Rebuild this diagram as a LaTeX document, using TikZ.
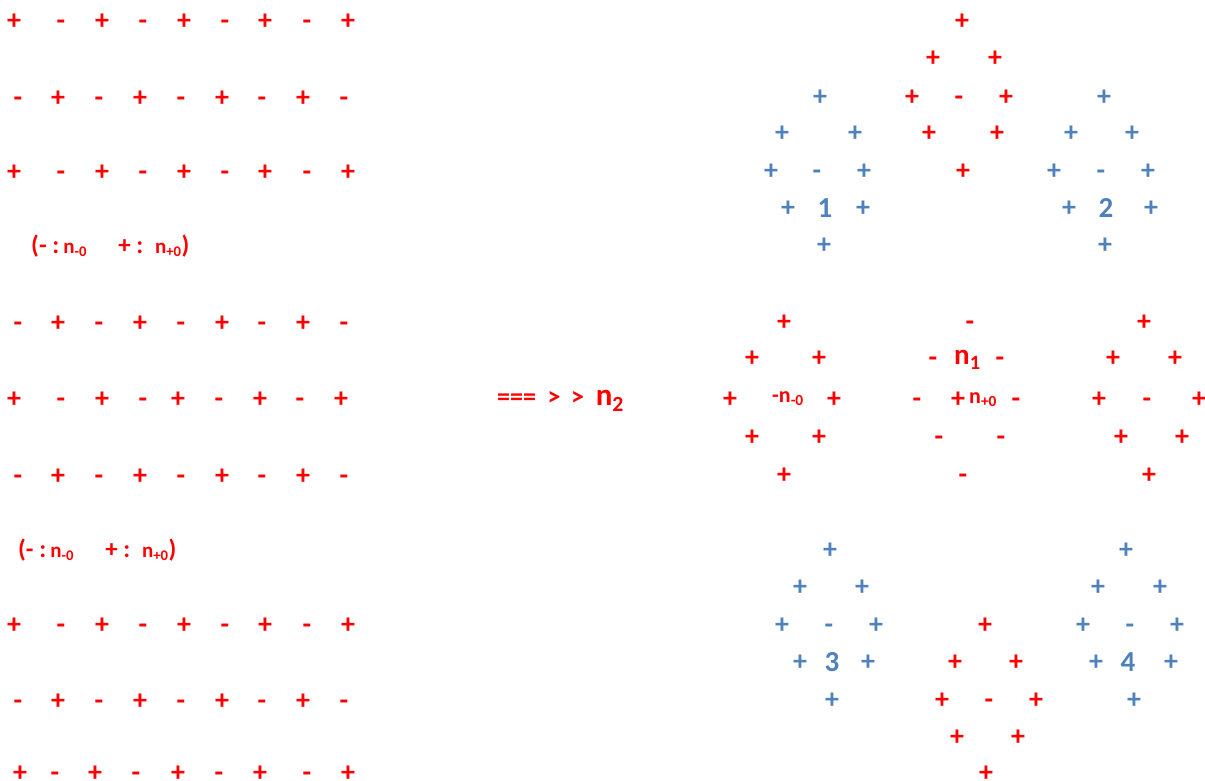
\documentclass[tikz,border=0pt]{standalone}
\usepackage{fontspec}
\setmainfont{Carlito}
\usetikzlibrary{positioning}
\definecolor{signred}{HTML}{FF0000}
\definecolor{signblue}{HTML}{4F81BD}

\tikzset{
  sgn/.style={font=\bfseries\fontsize{28}{28}\selectfont,inner sep=0pt,
              anchor=base,yshift=-9pt},
  redsgn/.style={sgn,text=signred},
  bluesgn/.style={sgn,text=signblue},
  legend/.style={font=\bfseries\fontsize{25}{25}\selectfont,text=signred,
                 inner sep=0pt,anchor=west},
  bignum/.style={font=\bfseries\fontsize{29}{29}\selectfont,text=signblue,
                 inner sep=0pt,anchor=base,yshift=-10pt},
  nlabel/.style={font=\bfseries\fontsize{22}{22}\selectfont,text=signred,
                 inner sep=0pt,anchor=west}
}
\newcommand{\legendtext}{(- :\,{\fontsize{21}{21}\selectfont n\textsubscript{-0}}\hspace{1.25em}+ :\,
  {\fontsize{21}{21}\selectfont n\textsubscript{+0}})}

\begin{document}
\begin{tikzpicture}[x=1pt,y=-1pt]
  \useasboundingbox (0,0) rectangle (1205,780);

  % left lattice, rows starting with +
  \foreach \y/\cols in {20/{14,61,102,143,184,225,265,307,348},
                        171/{14,61,102,143,184,225,265,307,348},
                        398/{14,61,102,143,178,219,260,300,341},
                        624/{14,61,102,143,184,225,265,307,348},
                        772/{20,55,95,136,178,219,260,307,348}}
    \foreach \x [count=\i] in \cols
      \node[redsgn] (p-\y-\i) at (\x,\y) {\ifodd\i +\else -\fi};
  % left lattice, rows starting with -
  \foreach \y in {97,322,475,700}
    \foreach \x [count=\i] in {18,58,99,140,181,222,262,303,344}
      \node[redsgn] (m-\y-\i) at (\x,\y) {\ifodd\i -\else +\fi};

  \node[legend] (leg1) at (31,246) {\legendtext};
  \node[legend] (leg2) at (18,550) {\legendtext};

  \node[legend,font=\bfseries\fontsize{26}{26}\selectfont] (arrow) at (497,401)
    {===\hspace{0.45em}>\hspace{0.4em}>\hspace{0.45em}{\fontsize{31}{31}\selectfont n\textsubscript{2}}};

  % top red diamond
  \node[redsgn] (t1) at (962,20) {+};
  \node[redsgn] (t2) at (933,57) {+};
  \node[redsgn] (t3) at (995,57) {+};
  \node[redsgn] (t4) at (912,96) {+};
  \node[redsgn] (t5) at (959,96) {-};
  \node[redsgn] (t6) at (1006,96) {+};
  \node[redsgn] (t7) at (929,132) {+};
  \node[redsgn] (t8) at (997,132) {+};
  \node[redsgn] (t9) at (963,170) {+};

  % blue diamond 1
  \node[bluesgn] (a1) at (820,96) {+};
  \node[bluesgn] (a2) at (782,132) {+};
  \node[bluesgn] (a3) at (855,132) {+};
  \node[bluesgn] (a4) at (771,170) {+};
  \node[bluesgn] (a5) at (817,170) {-};
  \node[bluesgn] (a6) at (864,170) {+};
  \node[bluesgn] (a7) at (788,207) {+};
  \node[bignum]  (a8) at (825,207) {1};
  \node[bluesgn] (a9) at (863,207) {+};
  \node[bluesgn] (a10) at (824,244) {+};

  % blue diamond 2
  \node[bluesgn] (b1) at (1104,96) {+};
  \node[bluesgn] (b2) at (1071,132) {+};
  \node[bluesgn] (b3) at (1132,132) {+};
  \node[bluesgn] (b4) at (1054,170) {+};
  \node[bluesgn] (b5) at (1101,170) {-};
  \node[bluesgn] (b6) at (1148,170) {+};
  \node[bluesgn] (b7) at (1069,207) {+};
  \node[bignum]  (b8) at (1106,207) {2};
  \node[bluesgn] (b9) at (1151,207) {+};
  \node[bluesgn] (b10) at (1105,244) {+};

  % middle left red diamond
  \node[redsgn] (l1) at (784,321) {+};
  \node[redsgn] (l2) at (752,357) {+};
  \node[redsgn] (l3) at (819,357) {+};
  \node[redsgn] (l4) at (730,398) {+};
  \node[nlabel] (l5) at (772,399) {-n\textsubscript{-0}};
  \node[redsgn] (l6) at (834,398) {+};
  \node[redsgn] (l7) at (752,436) {+};
  \node[redsgn] (l8) at (819,436) {+};
  \node[redsgn] (l9) at (784,474) {+};

  % centre red diamond
  \node[redsgn] (c1) at (970,321) {-};
  \node[redsgn] (c2) at (933,357) {-};
  \node[nlabel,font=\bfseries\fontsize{29}{29}\selectfont] (c3) at (954,360) {n\textsubscript{1}};
  \node[redsgn] (c4) at (1000,357) {-};
  \node[redsgn] (c5) at (917,398) {-};
  \node[redsgn] (c6) at (958,398) {+};
  \node[nlabel] (c7) at (969,400) {n\textsubscript{+0}};
  \node[redsgn] (c8) at (1016,398) {-};
  \node[redsgn] (c9) at (939,436) {-};
  \node[redsgn] (c10) at (1001,436) {-};
  \node[redsgn] (c11) at (963,474) {-};

  % middle right red diamond
  \node[redsgn] (r1) at (1144,321) {+};
  \node[redsgn] (r2) at (1113,357) {+};
  \node[redsgn] (r3) at (1175,357) {+};
  \node[redsgn] (r4) at (1099,398) {+};
  \node[redsgn] (r5) at (1147,398) {-};
  \node[redsgn] (r6) at (1199,398) {+};
  \node[redsgn] (r7) at (1121,436) {+};
  \node[redsgn] (r8) at (1182,436) {+};
  \node[redsgn] (r9) at (1149,474) {+};

  % blue diamond 3
  \node[bluesgn] (d1) at (830,549) {+};
  \node[bluesgn] (d2) at (800,586) {+};
  \node[bluesgn] (d3) at (862,586) {+};
  \node[bluesgn] (d4) at (782,624) {+};
  \node[bluesgn] (d5) at (829,624) {-};
  \node[bluesgn] (d6) at (876,624) {+};
  \node[bluesgn] (d7) at (800,661) {+};
  \node[bignum]  (d8) at (832,661) {3};
  \node[bluesgn] (d9) at (868,661) {+};
  \node[bluesgn] (d10) at (832,699) {+};

  % bottom red diamond
  \node[redsgn] (e1) at (985,624) {+};
  \node[redsgn] (e2) at (955,661) {+};
  \node[redsgn] (e3) at (1016,661) {+};
  \node[redsgn] (e4) at (942,699) {+};
  \node[redsgn] (e5) at (989,699) {-};
  \node[redsgn] (e6) at (1036,699) {+};
  \node[redsgn] (e7) at (957,736) {+};
  \node[redsgn] (e8) at (1018,736) {+};
  \node[redsgn] (e9) at (986,772) {+};

  % blue diamond 4
  \node[bluesgn] (f1) at (1126,549) {+};
  \node[bluesgn] (f2) at (1098,586) {+};
  \node[bluesgn] (f3) at (1160,586) {+};
  \node[bluesgn] (f4) at (1083,624) {+};
  \node[bluesgn] (f5) at (1130,624) {-};
  \node[bluesgn] (f6) at (1177,624) {+};
  \node[bluesgn] (f7) at (1096,661) {+};
  \node[bignum]  (f8) at (1128,661) {4};
  \node[bluesgn] (f9) at (1171,661) {+};
  \node[bluesgn] (f10) at (1134,699) {+};
\end{tikzpicture}
\end{document}
